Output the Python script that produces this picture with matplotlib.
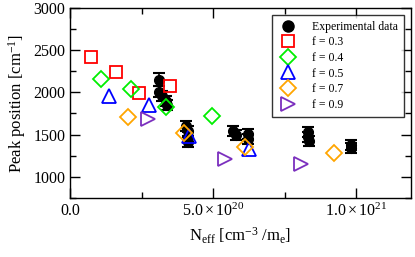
import numpy as np
import matplotlib.pyplot as plt
from matplotlib.ticker import MultipleLocator, FuncFormatter
from matplotlib.lines import Line2D

plt.rcParams['font.family'] = ['Liberation Serif', 'DejaVu Serif']
plt.rcParams['mathtext.fontset'] = 'custom'
plt.rcParams['mathtext.rm'] = 'Liberation Serif'
plt.rcParams['mathtext.it'] = 'Liberation Serif:italic'

# experimental data
exp_x = [3.1e20, 3.1e20, 3.2e20, 3.35e20, 3.4e20,
         4.05e20, 4.1e20, 4.1e20, 4.1e20,
         5.7e20, 5.8e20, 6.2e20, 6.2e20,
         8.3e20, 8.3e20, 8.35e20,
         9.8e20, 9.8e20]
exp_y = [2150, 2010, 1960, 1900, 1850,
         1600, 1540, 1470, 1410,
         1540, 1490, 1510, 1450,
         1530, 1470, 1420,
         1380, 1340]
exp_err = [75, 60, 60, 60, 60,
           60, 60, 60, 60,
           60, 60, 60, 60,
           60, 60, 60,
           60, 60]

# model results
f03_x = [0.73e20, 1.6e20, 2.42e20, 3.5e20]
f03_y = [2420, 2242, 1996, 2075]
f04_x = [1.07e20, 2.12e20, 3.36e20, 4.95e20]
f04_y = [2163, 2036, 1825, 1718]
f05_x = [1.37e20, 2.77e20, 4.14e20, 6.23e20]
f05_y = [1955, 1848, 1480, 1335]
f07_x = [2.02e20, 3.99e20, 6.1e20, 9.21e20]
f07_y = [1706, 1516, 1357, 1277]
f09_x = [2.72e20, 5.42e20, 8.08e20]
f09_y = [1679, 1211, 1151]

fig = plt.figure(figsize=(4.15, 2.57), dpi=100)
ax = fig.add_axes([0.169, 0.23, 0.821, 0.739])

ax.errorbar(exp_x, exp_y, yerr=exp_err, fmt='o', color='black', ms=7,
            capsize=4.5, elinewidth=1.2, capthick=1.5, zorder=2)
h = [Line2D([], [], ls='none', marker='o', color='black', ms=8)]
h += ax.plot(f03_x, f03_y, 's', mfc='none', mec='red', ms=9, mew=1.3, zorder=3)
h += ax.plot(f04_x, f04_y, 'D', mfc='none', mec='#00ee00', ms=8, mew=1.3, zorder=3)
h += ax.plot(f05_x, f05_y, '^', mfc='none', mec='blue', ms=10, mew=1.3, zorder=3)
h += ax.plot(f07_x, f07_y, 'D', mfc='none', mec='orange', ms=8, mew=1.3, zorder=3)
h += ax.plot(f09_x, f09_y, '>', mfc='none', mec='#7b2fbe', ms=10, mew=1.3, zorder=3)
labels = ['Experimental data', 'f = 0.3', 'f = 0.4', 'f = 0.5', 'f = 0.7', 'f = 0.9']

ax.set_xlim(0, 1.19e21)
ax.set_ylim(750, 3000)
ax.xaxis.set_major_locator(MultipleLocator(5e20))
ax.xaxis.set_minor_locator(MultipleLocator(2.5e20))
ax.yaxis.set_major_locator(MultipleLocator(500))
ax.yaxis.set_minor_locator(MultipleLocator(250))


def xfmt(v, pos):
    if v <= 0:
        return '0.0' if abs(v) < 1e10 else ''
    e = int(np.floor(np.log10(v)))
    return r'$%.1f\times10^{%d}$' % (v / 10**e, e)


ax.xaxis.set_major_formatter(FuncFormatter(xfmt))
ax.set_yticks([1000, 1500, 2000, 2500, 3000])
ax.tick_params(which='both', direction='in', top=True, right=True, labelsize=11.5)
ax.tick_params(which='major', length=7, width=1)
ax.tick_params(which='minor', length=4, width=1)
for s in ax.spines.values():
    s.set_linewidth(1)

ax.set_xlabel(r'N$_{\rm eff}$ [cm$^{-3}$ /m$_{\rm e}$]', fontsize=12)
ax.set_ylabel(r'Peak position [cm$^{-1}$]', fontsize=12)

leg = ax.legend(h, labels, loc='upper right', fontsize=8.5, frameon=True, fancybox=False,
                edgecolor='black', borderaxespad=0.6, handletextpad=1.1,
                labelspacing=0.3, borderpad=0.5, handlelength=1.8)
leg.get_frame().set_linewidth(1)

fig.savefig('out.png', dpi=100)
